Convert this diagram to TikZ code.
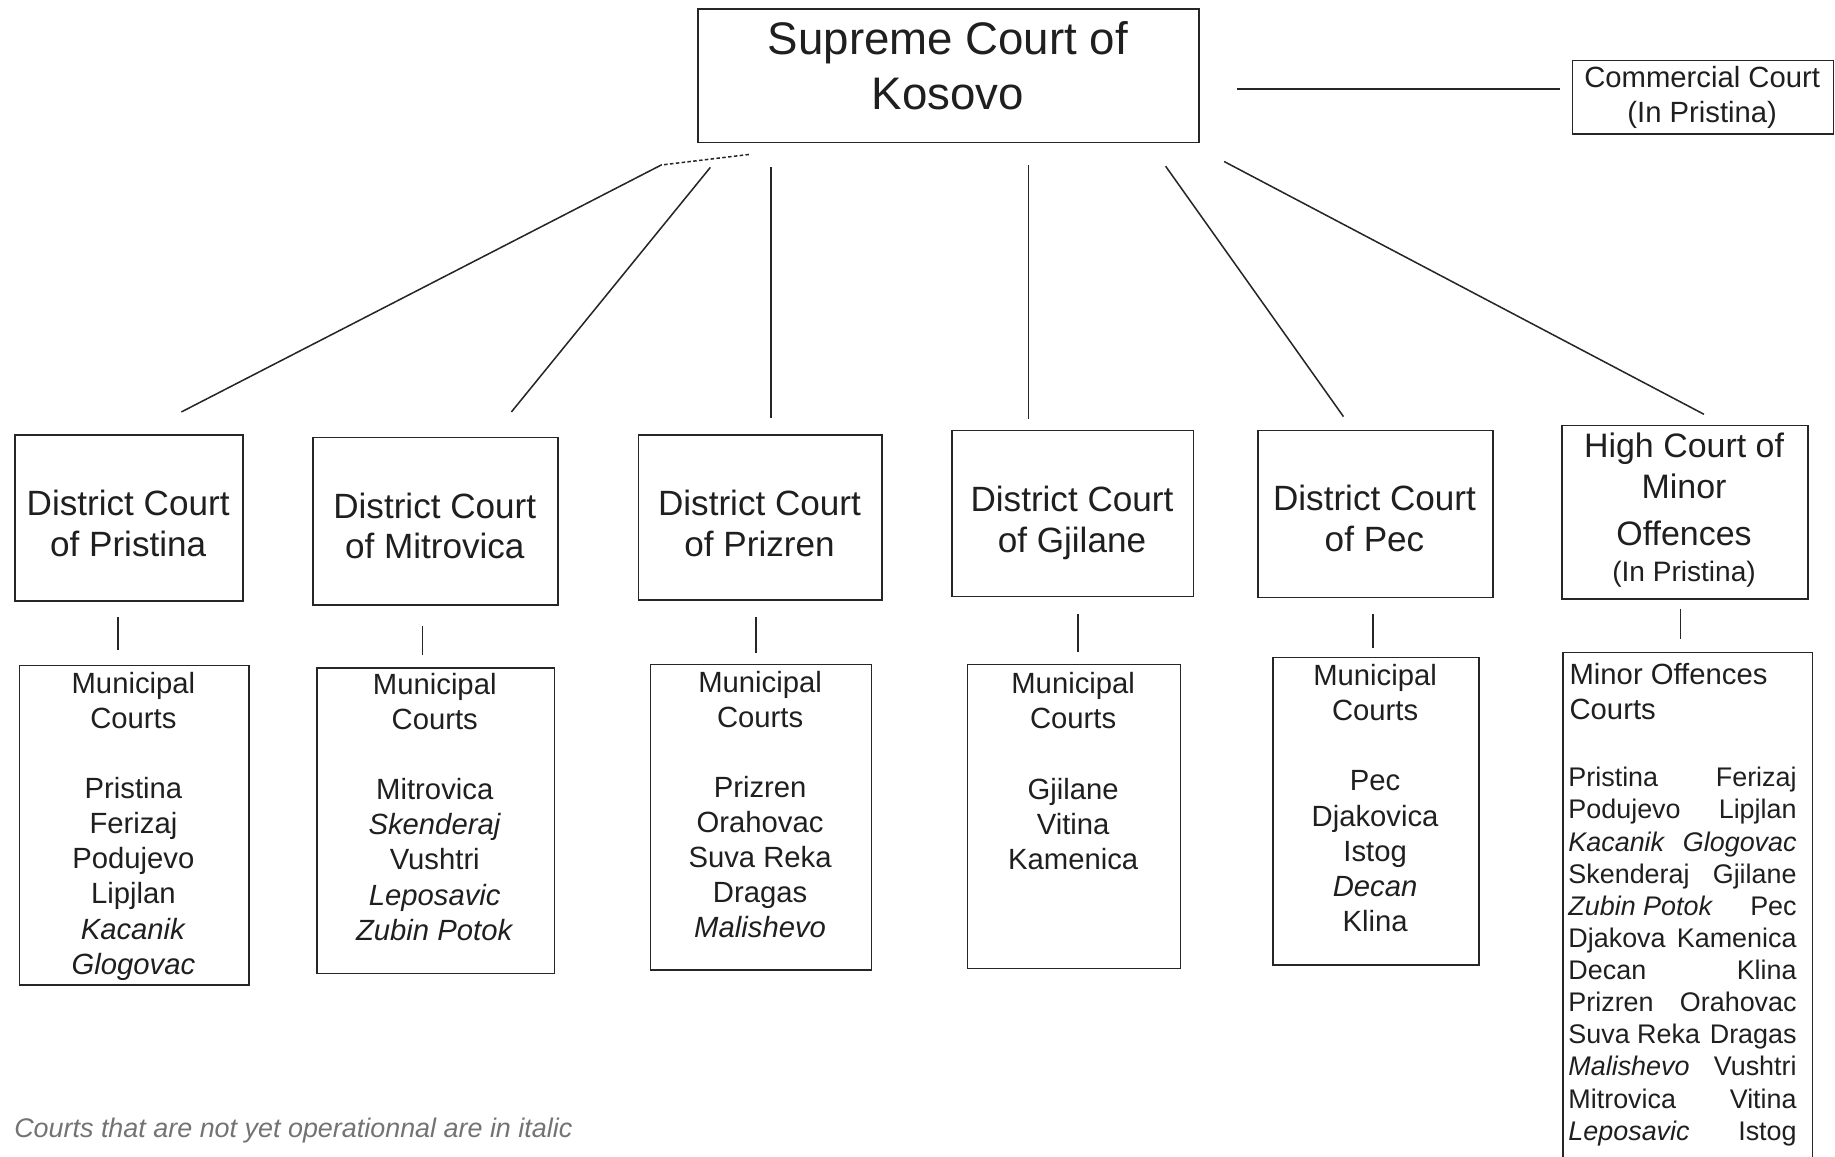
\documentclass[tikz,border=0pt]{standalone}
\usepackage{fontspec}
\setmainfont{Liberation Sans}
\begin{document}
\begin{tikzpicture}[x=1pt,y=-1pt,
  box/.style={draw=black!85, line width=1.4pt, inner sep=0pt, anchor=north west},
  conn/.style={draw=black!85, line width=1.3pt},
  txt/.style={inner sep=0pt, align=center, text=black!88},
  suptext/.style={txt, font=\fontsize{39}{47}\selectfont},
  comtext/.style={txt, font=\fontsize{25}{30}\selectfont},
  disttext/.style={txt, font=\fontsize{30}{35}\selectfont},
  muntext/.style={txt, font=\fontsize{25}{30}\selectfont},
  listtext/.style={inner sep=0pt, align=left, text=black!88, anchor=north west, font=\fontsize{23}{27.45}\selectfont},
]
\useasboundingbox (0,0) rectangle (1568,988);
\clip (0,0) rectangle (1568,988);

% ---------- top ----------
\node[box, minimum width=428pt, minimum height=114pt] (sup) at (596,7) {};
\node[suptext] (supT) at (810,56.3) {Supreme Court of\\Kosovo};

\node[box, minimum width=223pt, minimum height=63pt] (com) at (1343,51) {};
\node[comtext] (comT) at (1454.5,83.4) {Commercial Court\\(In Pristina)};

% ---------- district courts ----------
\node[box, minimum width=195pt, minimum height=142pt] (d1) at (12,371) {};
\node[disttext] (d1T) at (109.5,447.4) {District Court\\of Pristina};
\node[box, minimum width=209pt, minimum height=143pt] (d2) at (267,373) {};
\node[disttext] (d2T) at (371.5,449.4) {District Court\\of Mitrovica};
\node[box, minimum width=208pt, minimum height=141pt] (d3) at (545,371) {};
\node[disttext] (d3T) at (649,447.4) {District Court\\of Prizren};
\node[box, minimum width=206pt, minimum height=142pt] (d4) at (813,367) {};
\node[disttext] (d4T) at (916,447) {District Court\\of Gjilane};
\node[box, minimum width=201pt, minimum height=143pt] (d5) at (1074,367) {};
\node[disttext] (d5T) at (1174.5,443.4) {District Court\\of Pec};
\node[box, minimum width=210pt, minimum height=148pt] (d6) at (1334,363) {};
\node[disttext, font=\fontsize{29}{35}\selectfont] (d6T) at (1439,418.4) {High Court of\\Minor\\[5pt]Offences};
\node[txt, font=\fontsize{24}{29}\selectfont] (d6P) at (1439,491) {(In Pristina)};

% ---------- municipal courts ----------
\node[box, minimum width=196pt, minimum height=273pt] (m1) at (16,568) {};
\node[muntext] (m1T) at (114,705.9) {Municipal\\Courts\\[30pt]Pristina\\Ferizaj\\Podujevo\\Lipjlan\\\textit{Kacanik}\\\textit{Glogovac}};
\node[box, minimum width=203pt, minimum height=261pt] (m2) at (270,570) {};
\node[muntext] (m2T) at (371.5,689.4) {Municipal\\Courts\\[30pt]Mitrovica\\\textit{Skenderaj}\\Vushtri\\\textit{Leposavic}\\\textit{Zubin Potok}};
\node[box, minimum width=189pt, minimum height=261pt] (m3) at (555,567) {};
\node[muntext] (m3T) at (649.5,687.4) {Municipal\\Courts\\[30pt]Prizren\\Orahovac\\Suva Reka\\Dragas\\\textit{Malishevo}};
\node[box, minimum width=182pt, minimum height=260pt] (m4) at (826,567) {};
\node[muntext] (m4T) at (917,658.9) {Municipal\\Courts\\[30pt]Gjilane\\Vitina\\Kamenica};
\node[box, minimum width=176pt, minimum height=263pt] (m5) at (1087,561) {};
\node[muntext] (m5T) at (1175,681.9) {Municipal\\Courts\\[30pt]Pec\\Djakovica\\Istog\\\textit{Decan}\\Klina};
\node[box, minimum width=213pt, minimum height=460pt] (m6) at (1335,557) {};
\node[muntext, align=left, anchor=north west] (m6T) at (1341,566.8) {Minor Offences\\Courts};
\node[listtext] (m6L) at (1340,655.5) {%
\makebox[195pt]{Pristina\hfill Ferizaj}\\
\makebox[195pt]{Podujevo\hfill Lipjlan}\\
\makebox[195pt]{\textit{Kacanik}\hfill\textit{Glogovac}}\\
\makebox[195pt]{Skenderaj\hfill Gjilane}\\
\makebox[195pt]{\textit{Zubin Potok}\hfill Pec}\\
\makebox[195pt]{Djakova\hfill Kamenica}\\
\makebox[195pt]{Decan\hfill Klina}\\
\makebox[195pt]{Prizren\hfill Orahovac}\\
\makebox[195pt]{Suva Reka\hfill Dragas}\\
\makebox[195pt]{\textit{Malishevo}\hfill Vushtri}\\
\makebox[195pt]{Mitrovica\hfill Vitina}\\
\makebox[195pt]{\textit{Leposavic}\hfill Istog}};

% ---------- caption ----------
\node[inner sep=0pt, anchor=base west, text=black!55, font=\fontsize{23}{27}\selectfont\itshape] (cap) at (12,972.3) {Courts that are not yet operationnal are in italic};

% ---------- connector end points ----------
\coordinate (s1a) at (640,132); \coordinate (s1b) at (565,141); \coordinate (e1) at (155,352);
\coordinate (s2) at (607,143);  \coordinate (e2) at (437,352);
\coordinate (s3) at (659,143);  \coordinate (e3) at (659,357);
\coordinate (s4) at (879,141);  \coordinate (e4) at (879,358);
\coordinate (s5) at (996,142);  \coordinate (e5) at (1148,356);
\coordinate (s6) at (1046,138); \coordinate (e6) at (1456,354);
\coordinate (sc) at (1057,76);  \coordinate (ec) at (1333,76);

\draw[conn, densely dashed] (s1a) -- (s1b);
\draw[conn] (s1b) -- (e1);
\draw[conn] (s2) -- (e2);
\draw[conn] (s3) -- (e3);
\draw[conn] (s4) -- (e4);
\draw[conn] (s5) -- (e5);
\draw[conn] (s6) -- (e6);
\draw[conn] (sc) -- (ec);

% ---------- district to municipal ----------
\coordinate (v1a) at (101,527);  \coordinate (v1b) at (101,555);
\coordinate (v2a) at (361,535);  \coordinate (v2b) at (361,560);
\coordinate (v3a) at (646,527);  \coordinate (v3b) at (646,558);
\coordinate (v4a) at (921,525);  \coordinate (v4b) at (921,557);
\coordinate (v5a) at (1173,525); \coordinate (v5b) at (1173,554);
\coordinate (v6a) at (1436,520); \coordinate (v6b) at (1436,546);
\draw[conn] (v1a) -- (v1b);
\draw[conn] (v2a) -- (v2b);
\draw[conn] (v3a) -- (v3b);
\draw[conn] (v4a) -- (v4b);
\draw[conn] (v5a) -- (v5b);
\draw[conn] (v6a) -- (v6b);
\end{tikzpicture}
\end{document}
